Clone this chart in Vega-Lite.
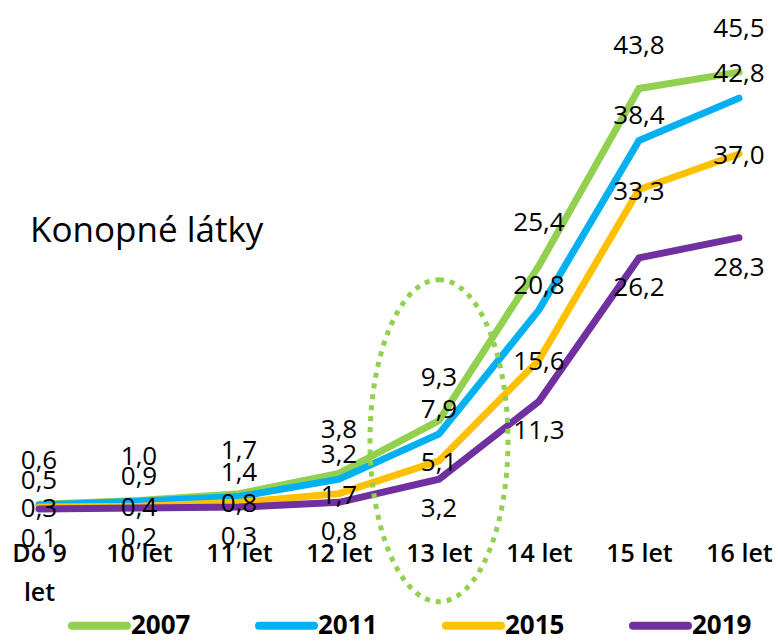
{
  "$schema": "https://vega.github.io/schema/vega-lite/v6.json",
  "width": 778,
  "height": 510,
  "autosize": "none",
  "padding": {"left": 0, "top": 0, "right": 0, "bottom": 131},
  "background": "white",
  "config": {
    "view": {"stroke": null},
    "font": "Open Sans",
    "locale": {"number": {"decimal": ",", "thousands": " ", "grouping": [3], "currency": ["", " Kč"]}}
  },
  "datasets": {
    "main": [
      {"age": "Do 9 let", "year": "2007", "value": 0.6},
      {"age": "10 let", "year": "2007", "value": 1.0},
      {"age": "11 let", "year": "2007", "value": 1.7},
      {"age": "12 let", "year": "2007", "value": 3.8},
      {"age": "13 let", "year": "2007", "value": 9.3},
      {"age": "14 let", "year": "2007", "value": 25.4},
      {"age": "15 let", "year": "2007", "value": 43.8},
      {"age": "16 let", "year": "2007", "value": 45.5},
      {"age": "Do 9 let", "year": "2011", "value": 0.5},
      {"age": "10 let", "year": "2011", "value": 0.9},
      {"age": "11 let", "year": "2011", "value": 1.4},
      {"age": "12 let", "year": "2011", "value": 3.2},
      {"age": "13 let", "year": "2011", "value": 7.9},
      {"age": "14 let", "year": "2011", "value": 20.8},
      {"age": "15 let", "year": "2011", "value": 38.4},
      {"age": "16 let", "year": "2011", "value": 42.8},
      {"age": "Do 9 let", "year": "2015", "value": 0.3},
      {"age": "10 let", "year": "2015", "value": 0.4},
      {"age": "11 let", "year": "2015", "value": 0.8},
      {"age": "12 let", "year": "2015", "value": 1.7},
      {"age": "13 let", "year": "2015", "value": 5.1},
      {"age": "14 let", "year": "2015", "value": 15.6},
      {"age": "15 let", "year": "2015", "value": 33.3},
      {"age": "16 let", "year": "2015", "value": 37.0},
      {"age": "Do 9 let", "year": "2019", "value": 0.1},
      {"age": "10 let", "year": "2019", "value": 0.2},
      {"age": "11 let", "year": "2019", "value": 0.3},
      {"age": "12 let", "year": "2019", "value": 0.8},
      {"age": "13 let", "year": "2019", "value": 3.2},
      {"age": "14 let", "year": "2019", "value": 11.3},
      {"age": "15 let", "year": "2019", "value": 26.2},
      {"age": "16 let", "year": "2019", "value": 28.3}
    ]
  },
  "data": {"name": "main"},
  "layer": [
    {
      "mark": {"type": "line", "strokeWidth": 7, "strokeCap": "round", "strokeJoin": "miter"},
      "encoding": {
        "x": {
          "field": "age",
          "type": "ordinal",
          "sort": null,
          "scale": {"type": "point", "padding": 0.39},
          "axis": {
            "title": null,
            "domain": false,
            "ticks": false,
            "grid": false,
            "labelAngle": 0,
            "labelFontSize": 25,
            "labelFontWeight": 600,
            "labelColor": "#000000",
            "labelPadding": 31,
            "labelLineHeight": 39,
            "labelOverlap": false,
            "labelFlush": false,
            "labelBound": false,
            "labelExpr": "datum.value == 'Do 9 let' ? ['Do 9', 'let'] : datum.value"
          }
        },
        "y": {
          "field": "value",
          "type": "quantitative",
          "scale": {"domain": [0, 53], "nice": false, "zero": true},
          "axis": null
        },
        "color": {
          "field": "year",
          "type": "nominal",
          "scale": {"domain": ["2007", "2011", "2015", "2019"], "range": ["#92D050", "#00B0F0", "#FFC000", "#7030A0"]},
          "legend": {
            "title": null,
            "orient": "none",
            "direction": "horizontal",
            "columns": 4,
            "legendX": 68,
            "legendY": 594,
            "padding": 0,
            "columnPadding": 52,
            "symbolType": "stroke",
            "symbolSize": 3025,
            "symbolStrokeWidth": 8,
            "labelFontSize": 26,
            "labelFontWeight": "bold",
            "labelColor": "#000000",
            "labelOffset": 0,
            "encode": {"symbols": {"update": {"strokeCap": {"value": "round"}}}}
          }
        }
      }
    },
    {
      "data": {"values": [{}]},
      "mark": {
        "type": "point",
        "shape": "M 0 -1 C 0.2367 -1 0.4286 -0.5523 0.4286 0 C 0.4286 0.5523 0.2367 1 0 1 C -0.2367 1 -0.4286 0.5523 -0.4286 0 C -0.4286 -0.5523 -0.2367 -1 0 -1 Z",
        "size": 103684,
        "filled": false,
        "stroke": "#92D050",
        "strokeWidth": 5,
        "strokeDash": [5, 6],
        "opacity": 1
      },
      "encoding": {
        "x": {"datum": "13 let", "type": "ordinal"},
        "y": {"datum": 7.2, "type": "quantitative"}
      }
    },
    {
      "transform": [{"filter": "datum.year == '2007'"}],
      "mark": {"type": "text", "fontSize": 26, "dy": -43, "color": "#000000"},
      "encoding": {
        "x": {"field": "age", "type": "ordinal", "sort": null},
        "y": {"field": "value", "type": "quantitative"},
        "text": {"field": "value", "type": "quantitative", "format": ".1f"}
      }
    },
    {
      "transform": [{"filter": "datum.year == '2011'"}],
      "mark": {"type": "text", "fontSize": 26, "dy": -24, "color": "#000000"},
      "encoding": {
        "x": {"field": "age", "type": "ordinal", "sort": null},
        "y": {"field": "value", "type": "quantitative"},
        "text": {"field": "value", "type": "quantitative", "format": ".1f"}
      }
    },
    {
      "transform": [{"filter": "datum.year == '2015'"}],
      "mark": {"type": "text", "fontSize": 26, "dy": 2, "color": "#000000"},
      "encoding": {
        "x": {"field": "age", "type": "ordinal", "sort": null},
        "y": {"field": "value", "type": "quantitative"},
        "text": {"field": "value", "type": "quantitative", "format": ".1f"}
      }
    },
    {
      "transform": [{"filter": "datum.year == '2019'"}],
      "mark": {"type": "text", "fontSize": 26, "dy": 30, "color": "#000000"},
      "encoding": {
        "x": {"field": "age", "type": "ordinal", "sort": null},
        "y": {"field": "value", "type": "quantitative"},
        "text": {"field": "value", "type": "quantitative", "format": ".1f"}
      }
    },
    {
      "data": {"values": [{}]},
      "mark": {"type": "text", "fontSize": 35, "fontWeight": "normal", "align": "left", "dx": -9, "color": "#000000", "text": "Konopné látky"},
      "encoding": {
        "x": {"datum": "Do 9 let", "type": "ordinal"},
        "y": {"datum": 29, "type": "quantitative"}
      }
    }
  ]
}
